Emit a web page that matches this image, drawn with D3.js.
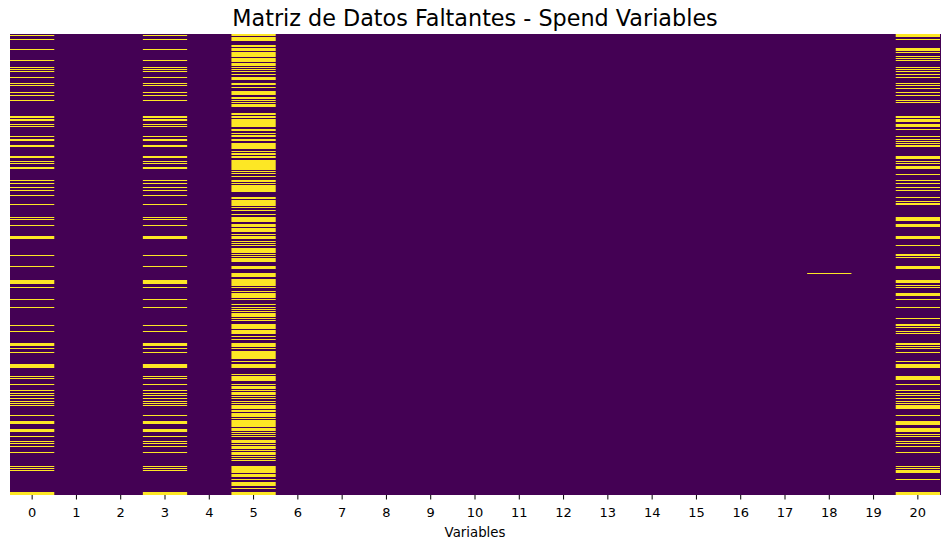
<!DOCTYPE html>
<html>
<head>
<meta charset="utf-8">
<script src="https://cdn.jsdelivr.net/npm/d3@7"></script>
<style>
  html, body { margin: 0; padding: 0; background: #ffffff; }
  svg { display: block; }
  text { font-family: "DejaVu Sans", sans-serif; fill: #000; }
</style>
</head>
<body>
<div id="chart"></div>
<script>
// ---------- data ----------
const title = "Matriz de Datos Faltantes - Spend Variables";
const xLabel = "Variables";
const variables = d3.range(21).map(String);   // column tick labels 0..20
const nRows = 461;                              // observations (rows)

// missing row ranges [from, to] per column
const missingCol0 = [[1,1],[5,5],[15,15],[26,26],[33,33],[35,35],[37,37],[43,43],[49,49],[51,51],[58,58],[61,61],[66,66],[82,83],[85,86],[90,90],[92,92],[102,102],[105,106],[111,112],[122,123],[127,127],[129,129],[133,134],[146,146],[149,149],[153,153],[156,156],[161,161],[170,170],[183,183],[185,185],[191,191],[202,204],[221,221],[232,232],[246,249],[253,253],[265,265],[273,273],[291,291],[297,297],[309,311],[314,314],[318,318],[330,333],[342,342],[344,344],[350,350],[356,356],[359,359],[361,361],[364,364],[367,367],[369,369],[371,371],[381,381],[387,389],[395,397],[402,402],[407,407],[409,409],[412,412],[418,418],[432,432],[434,434],[436,436],[458,460]];
const missingCol3 = missingCol0.slice();
const missingCol5 = [[0,1],[3,6],[11,12],[14,16],[18,22],[24,27],[29,31],[33,33],[35,35],[37,37],[40,40],[43,45],[49,50],[53,53],[57,60],[63,64],[66,66],[68,68],[70,72],[79,80],[82,83],[85,92],[95,96],[99,99],[101,102],[105,106],[109,114],[117,117],[119,120],[122,123],[126,135],[137,137],[139,139],[142,142],[146,147],[149,149],[151,152],[153,153],[154,154],[155,157],[163,164],[166,171],[173,173],[176,176],[180,180],[183,187],[190,192],[194,197],[200,200],[202,204],[207,207],[209,209],[211,211],[214,218],[220,220],[222,222],[224,227],[232,234],[239,242],[245,251],[253,253],[257,257],[259,263],[265,265],[270,270],[273,273],[275,275],[277,277],[279,282],[284,284],[286,286],[290,294],[296,299],[302,302],[305,305],[309,311],[312,312],[314,314],[317,324],[327,327],[330,333],[340,340],[342,346],[350,350],[352,354],[356,356],[358,360],[362,362],[364,364],[367,367],[369,369],[371,374],[376,377],[379,382],[384,384],[386,392],[394,396],[398,398],[400,400],[402,402],[406,408],[410,410],[412,414],[416,416],[418,420],[422,422],[424,424],[426,426],[432,438],[440,442],[445,445],[448,451],[454,454],[458,460]];
const missingCol18 = [[239,239]];
const missingCol20 = [[0,2],[5,5],[14,16],[18,18],[22,22],[24,24],[26,26],[33,33],[35,35],[37,37],[40,40],[43,43],[49,49],[51,51],[54,54],[58,58],[61,61],[66,66],[68,68],[82,83],[85,87],[90,92],[95,95],[102,102],[105,105],[107,107],[109,109],[111,112],[122,124],[127,127],[129,129],[132,134],[140,140],[146,146],[149,149],[153,153],[156,156],[163,163],[167,167],[169,170],[183,186],[190,192],[202,204],[211,211],[220,221],[223,223],[232,234],[246,248],[251,251],[253,253],[259,261],[265,265],[273,273],[284,284],[290,291],[293,293],[297,297],[299,299],[309,310],[312,312],[314,314],[318,318],[327,327],[330,333],[342,345],[350,350],[356,356],[359,359],[361,361],[364,364],[367,367],[369,369],[371,374],[381,381],[387,390],[394,397],[400,400],[402,402],[407,407],[409,409],[412,412],[418,418],[432,432],[434,434],[436,438],[445,445],[458,460]];

// ---------- build cell table ----------
const missingByColumn = {"0": missingCol0, "3": missingCol3, "5": missingCol5, "18": missingCol18, "20": missingCol20};
const cells = [];
variables.forEach(v => {
  (missingByColumn[v] || []).forEach(([a, b]) => cells.push({col: v, from: a, to: b}));
});

// ---------- layout ----------
const W = 950, H = 549;
const plot = {left: 10, right: 940, top: 34, bottom: 495};
const colorPresent = "#440154", colorMissing = "#fde725";

const svg = d3.select("#chart").append("svg")
  .attr("width", W).attr("height", H);

const x = d3.scaleBand().domain(variables).range([plot.left, plot.right]).padding(0);
const y = d3.scaleLinear().domain([0, nRows]).range([plot.top, plot.bottom]);

// present background (all cells = not missing)
svg.append("g").selectAll("rect.present")
  .data(variables).join("rect")
  .attr("class", "present")
  .attr("x", d => x(d))
  .attr("y", y(0))
  .attr("width", x.bandwidth() + 0.5)
  .attr("height", y(nRows) - y(0))
  .attr("fill", colorPresent)
  .attr("shape-rendering", "crispEdges");

// missing cells
svg.append("g").selectAll("rect.missing")
  .data(cells).join("rect")
  .attr("class", "missing")
  .attr("x", d => x(d.col))
  .attr("y", d => y(d.from))
  .attr("width", x.bandwidth())
  .attr("height", d => y(d.to + 1) - y(d.from))
  .attr("fill", colorMissing);

// x axis
const axis = svg.append("g")
  .attr("transform", `translate(0,${plot.bottom})`)
  .call(d3.axisBottom(x).tickSize(4.5).tickPadding(8));
axis.select(".domain").remove();
axis.selectAll(".tick line").attr("stroke", "#000").attr("stroke-width", 1);
axis.selectAll(".tick text")
  .attr("font-family", "DejaVu Sans, sans-serif")
  .attr("font-size", 13)
  .attr("fill", "#000");

// axis label
svg.append("text")
  .attr("x", (plot.left + plot.right) / 2)
  .attr("y", 537)
  .attr("text-anchor", "middle")
  .attr("font-size", 13.3)
  .text(xLabel);

// title
svg.append("text")
  .attr("x", (plot.left + plot.right) / 2)
  .attr("y", 26)
  .attr("text-anchor", "middle")
  .attr("font-size", 22.3)
  .text(title);
</script>
</body>
</html>
